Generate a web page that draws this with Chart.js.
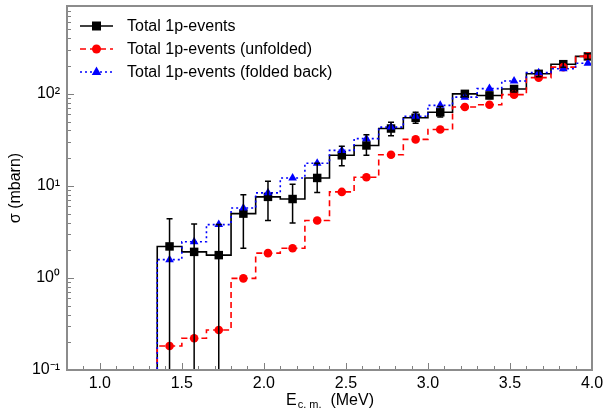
<!DOCTYPE html>
<html>
<head>
<meta charset="utf-8">
<script src="https://cdn.jsdelivr.net/npm/chart.js@4.4.0/dist/chart.umd.min.js"></script>
<style>
  html, body { margin: 0; padding: 0; background: #fff; }
</style>
</head>
<body>
<canvas id="chart" width="605" height="409"></canvas>
<script>
// bin centres (MeV) and bin width
const energies = [1.425, 1.575, 1.725, 1.875, 2.025, 2.175, 2.325, 2.475, 2.625,
                  2.775, 2.925, 3.075, 3.225, 3.375, 3.525, 3.675, 3.825, 3.975];
const binWidth = 0.15;

// cross sections (mbarn)
const total      = [2.2, 1.92, 1.77, 5.0, 7.6, 7.2, 12.2, 21.5, 27.5, 42, 55, 63, 100, 96, 113, 165, 210, 255];
const totalHigh  = [4.4, 3.85, 3.8, 8.0, 11.2, 10.4, 17.6, 26.9, 36, 49, 63, 73, 108, 104, 122, 178, 226, 272];
const totalLow   = [0.01, 0.01, 0.01, 2.1, 4.2, 3.96, 8.5, 16.6, 21.5, 35, 48, 56, 93, 89, 105, 153, 195, 238];
const unfolded   = [0.182, 0.221, 0.272, 0.99, 1.86, 2.1, 4.2, 8.6, 12.4, 21.8, 32, 41, 72, 76, 98, 150, 195, 255];
const foldedBack = [1.58, 2.47, 3.8, 5.75, 8.4, 12.2, 17.6, 24.3, 32.6, 43.5, 57, 75, 92, 114, 138, 170, 187, 215];

const seriesNames = ['Total 1p-events', 'Total 1p-events (unfolded)', 'Total 1p-events (folded back)'];
const xTicks = [1.0, 1.5, 2.0, 2.5, 3.0, 3.5, 4.0];
const yTicks = [0.1, 1, 10, 100];
const yTickLabels = ['10⁻¹', '10⁰', '10¹', '10²'];

const FONT = 'Liberation Sans, Arial, Helvetica, sans-serif';
Chart.defaults.font.family = FONT;
Chart.defaults.font.size = 16;
Chart.defaults.color = '#000';

// histogram outline: rise from the floor at the first edge, then steps
const histo = vals => [{ x: energies[0] - binWidth / 2, y: 1e-3 }]
  .concat(vals.map((v, i) => ({ x: energies[i] - binWidth / 2, y: v })))
  .concat([{ x: energies[energies.length - 1] + binWidth / 2, y: vals[vals.length - 1] }]);
const points = vals => vals.map((v, i) => ({ x: energies[i], y: v }));

const styles = [
  { color: '#000000', dash: [],     marker: 'rect' },
  { color: '#ff0000', dash: [6, 4], marker: 'circle' },
  { color: '#0000ff', dash: [2, 3], marker: 'triangle' }
];

function marker(ctx, style, x, y, r) {
  ctx.beginPath();
  if (style === 'rect') ctx.rect(x - r, y - r, 2 * r, 2 * r);
  else if (style === 'circle') ctx.arc(x, y, r, 0, Math.PI * 2);
  else {
    ctx.moveTo(x, y - r * 1.2);
    ctx.lineTo(x + r * 1.05, y + r * 0.65);
    ctx.lineTo(x - r * 1.05, y + r * 0.65);
    ctx.closePath();
  }
  ctx.fill();
}

const errorBars = {
  id: 'errorBars',
  afterDatasetsDraw(chart) {
    const { ctx, chartArea: a, scales: { x, y } } = chart;
    ctx.save();
    ctx.beginPath();
    ctx.rect(a.left, a.top, a.right - a.left, a.bottom - a.top);
    ctx.clip();
    ctx.strokeStyle = '#000';
    ctx.lineWidth = 1.5;
    energies.forEach((e, i) => {
      const px = x.getPixelForValue(e);
      const top = y.getPixelForValue(totalHigh[i]);
      const bot = y.getPixelForValue(totalLow[i]);
      ctx.beginPath();
      ctx.moveTo(px, top); ctx.lineTo(px, bot);
      ctx.moveTo(px - 3, top); ctx.lineTo(px + 3, top);
      ctx.moveTo(px - 3, bot); ctx.lineTo(px + 3, bot);
      ctx.stroke();
    });
    ctx.restore();
  }
};

const frame = {
  id: 'frame',
  afterDraw(chart) {
    const { ctx, chartArea: a, scales: { x, y } } = chart;
    ctx.save();
    // inward tick marks
    ctx.strokeStyle = '#808080';
    ctx.lineWidth = 1;
    ctx.beginPath();
    for (let k = 8; k <= 40; k++) {
      const px = Math.round(x.getPixelForValue(k / 10)) + 0.5;
      const len = k % 5 === 0 ? 7 : 4;
      ctx.moveTo(px, a.bottom); ctx.lineTo(px, a.bottom - len);
    }
    for (let d = -1; d <= 2; d++) {
      for (let m = 1; m <= 9; m++) {
        const v = m * Math.pow(10, d);
        if (v > y.max) continue;
        const py = Math.round(y.getPixelForValue(v)) + 0.5;
        const len = m === 1 ? 7 : 4;
        ctx.moveTo(a.left, py); ctx.lineTo(a.left + len, py);
      }
    }
    ctx.stroke();
    // frame
    ctx.strokeStyle = '#8c8c8c';
    ctx.lineWidth = 2;
    ctx.strokeRect(a.left, a.top, a.right - a.left, a.bottom - a.top);

    // x title with subscript
    ctx.fillStyle = '#000';
    ctx.textBaseline = 'alphabetic';
    const big = '16px ' + FONT, small = '11px ' + FONT;
    ctx.font = big;   const wE = ctx.measureText('E').width;
    ctx.font = small; const wS = ctx.measureText('c. m.').width;
    ctx.font = big;   const wU = ctx.measureText('  (MeV)').width;
    let tx = (a.left + a.right) / 2 - (wE + wS + wU) / 2;
    const base = 405;
    ctx.font = big;   ctx.fillText('E', tx, base); tx += wE;
    ctx.font = small; ctx.fillText('c. m.', tx + 1, base + 3); tx += wS + 1;
    ctx.font = big;   ctx.fillText('  (MeV)', tx, base);

    // legend
    const rows = [26, 49, 72];
    styles.forEach((s, i) => {
      const ly = rows[i];
      ctx.strokeStyle = s.color;
      ctx.fillStyle = s.color;
      ctx.lineWidth = 1.5;
      ctx.setLineDash(s.dash);
      ctx.beginPath(); ctx.moveTo(80, ly); ctx.lineTo(113, ly); ctx.stroke();
      ctx.setLineDash([]);
      marker(ctx, s.marker, 96.5, ly, s.marker === 'rect' ? 4.5 : 4.5);
      ctx.fillStyle = '#000';
      ctx.font = big;
      ctx.textBaseline = 'middle';
      ctx.fillText(seriesNames[i], 127, ly + 1);
    });
    ctx.restore();
  }
};

const lineSet = (vals, s, order) => ({
  data: histo(vals), borderColor: s.color, borderWidth: 1.6, borderDash: s.dash,
  pointRadius: 0, stepped: true, fill: false, clip: 0, order
});
const markerSet = (vals, s, order, radius) => ({
  data: points(vals), showLine: false, pointStyle: s.marker, pointRadius: radius,
  pointBackgroundColor: s.color, pointBorderColor: s.color, pointBorderWidth: 0, order
});

new Chart(document.getElementById('chart'), {
  type: 'line',
  data: {
    datasets: [
      lineSet(total, styles[0], 6),
      lineSet(unfolded, styles[1], 5),
      lineSet(foldedBack, styles[2], 4),
      markerSet(total, styles[0], 3, 6),
      markerSet(unfolded, styles[1], 2, 4.3),
      markerSet(foldedBack, styles[2], 1, 5)
    ]
  },
  options: {
    responsive: false,
    animation: false,
    layout: { padding: { left: 0, right: 13, top: 5, bottom: 0 } },
    plugins: { legend: { display: false }, tooltip: { enabled: false } },
    scales: {
      x: {
        type: 'linear', min: 0.8, max: 4.0,
        afterBuildTicks: s => { s.ticks = xTicks.map(v => ({ value: v })); },
        afterFit: s => { s.height = 39; s.paddingLeft = 0; s.paddingRight = 0; },
        ticks: { padding: 4, maxRotation: 0, callback: v => v.toFixed(1) },
        grid: { display: false, drawTicks: false, tickLength: 0 },
        border: { display: false }
      },
      y: {
        type: 'logarithmic', min: 0.1, max: 900,
        afterBuildTicks: s => { s.ticks = yTicks.map(v => ({ value: v })); },
        afterFit: s => { s.width = 67; s.paddingTop = 0; s.paddingBottom = 0; },
        ticks: { padding: 7, callback: v => yTickLabels[yTicks.indexOf(v)] },
        grid: { display: false, drawTicks: false, tickLength: 0 },
        border: { display: false },
        title: { display: true, text: 'σ (mbarn)', font: { size: 16 }, padding: { top: 6, bottom: 0 } }
      }
    }
  },
  plugins: [errorBars, frame]
});
</script>
</body>
</html>
